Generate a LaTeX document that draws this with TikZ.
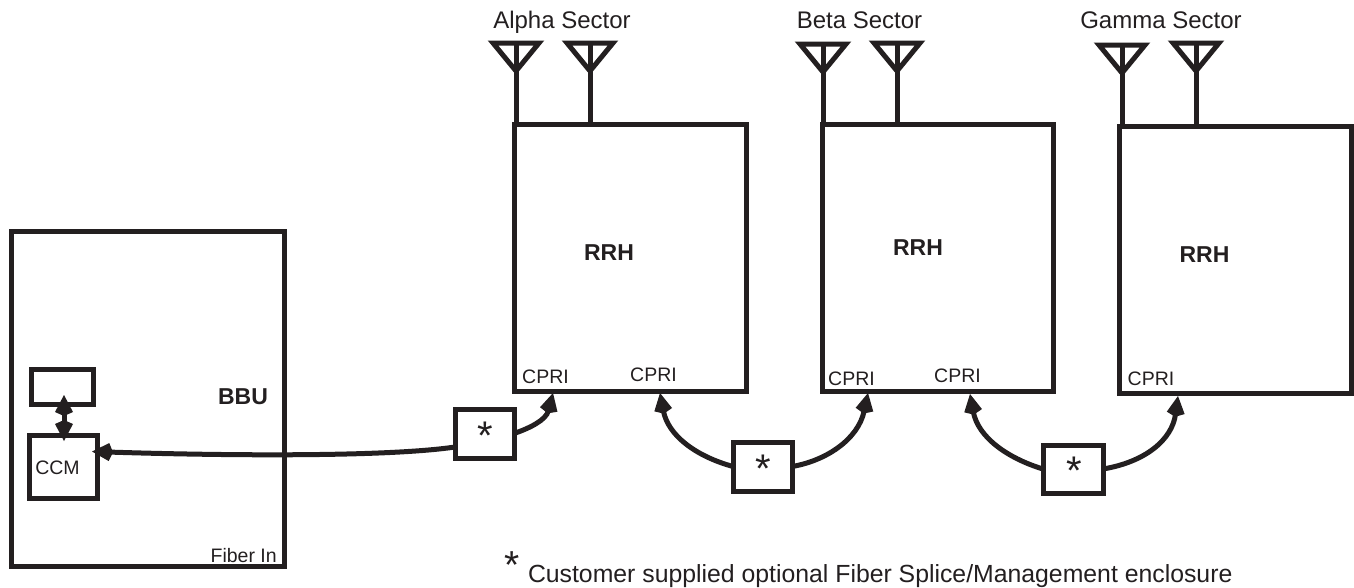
\documentclass[tikz,border=0pt]{standalone}
\usepackage{fontspec}
\setmainfont{Liberation Sans}
\usetikzlibrary{arrows.meta}
\definecolor{ink}{HTML}{231F20}
\newcommand{\fs}[1]{\fontsize{#1}{#1}\selectfont}
\tikzset{
  x=1pt,y=-1pt,
  boxn/.style={draw=ink,line width=5pt,inner sep=0pt,outer sep=0pt,rectangle},
  txt/.style={inner sep=0pt,outer sep=0pt,text=ink,anchor=base},
  lab/.style={txt,font=\fs{19.5}},
  sec/.style={txt,font=\fs{24}},
  hd/.style={txt,font=\fs{23}\bfseries},
  star/.style={txt,font=\fs{40}},
  wire/.style={draw=ink,line width=5pt},
  arr/.style={wire,-{Kite[length=21pt,width=18pt,inset=4pt]}},
  darr/.style={wire,{Kite[length=21pt,width=18pt,inset=4pt]}-{Kite[length=21pt,width=18pt,inset=4pt]}},
  ant/.style={draw=ink,line width=5pt,miter limit=10,line join=miter},
}
\newcommand{\antenna}[4]{%
  \coordinate (#1a) at (#2-23,#3);
  \coordinate (#1b) at (#2+23,#3);
  \coordinate (#1c) at (#2,#3+28);
  \coordinate (#1t) at (#2,#3);
  \coordinate (#1e) at (#2,#4);
  \draw[ant] (#1a) -- (#1b) -- (#1c) -- cycle;
  \draw[wire] (#1t) -- (#1e);
}
\begin{document}
\begin{tikzpicture}
\useasboundingbox (0,0) rectangle (1354,587);
% boxes
\node[boxn,minimum width=273pt,minimum height=335pt] (bbu) at (147.5,398.5) {};
\node[boxn,minimum width=62pt,minimum height=35pt] (top) at (62,386.5) {};
\node[boxn,minimum width=68pt,minimum height=63pt] (ccm) at (63,466.5) {};
\node[boxn,minimum width=231.5pt,minimum height=266.5pt] (rrha) at (630.25,257.75) {};
\node[boxn,minimum width=231.5pt,minimum height=266.5pt] (rrhb) at (937.75,257.75) {};
\node[boxn,minimum width=231.5pt,minimum height=267.5pt] (rrhc) at (1235.25,259.75) {};
\node[boxn,minimum width=59pt,minimum height=49pt] (s1) at (484.5,433.5) {};
\node[boxn,minimum width=59pt,minimum height=49pt] (s2) at (762.5,466.5) {};
\node[boxn,minimum width=60pt,minimum height=48pt] (s3) at (1073,469) {};
% antennas
\antenna{a1}{516}{43}{124}\antenna{a2}{590}{43}{124}
\antenna{b1}{823}{44}{124}\antenna{b2}{897}{43}{124}
\antenna{c1}{1122}{45}{126}\antenna{c2}{1196}{43}{126}
% labels
\node[sec] (t1) at (562,28) {Alpha Sector};
\node[sec] (t2) at (859.5,28) {Beta Sector};
\node[sec] (t3) at (1161,28) {Gamma Sector};
\node[hd] (h1) at (609,260) {RRH};
\node[hd] (h2) at (918,255) {RRH};
\node[hd] (h3) at (1204.5,262) {RRH};
\node[hd] (h4) at (243,404) {BBU};
\node[lab] (c1) at (545.5,383) {CPRI};
\node[lab] (c2) at (653.5,381) {CPRI};
\node[lab] (c3) at (851.5,385) {CPRI};
\node[lab] (c4) at (957.5,382) {CPRI};
\node[lab] (c5) at (1151,385) {CPRI};
\node[lab] (ccmt) at (57.5,474) {CCM};
\node[lab] (fib) at (243.7,562.7) {Fiber In};
\node[star] (st1) at (485.5,449) {*};
\node[star] (st2) at (763.7,482) {*};
\node[star] (st3) at (1074,484) {*};
\node[txt,font=\fs{39}] (st4) at (512,578) {*};
\node[txt,font=\fs{24.8},anchor=base west] (note) at (528,582) {Customer supplied optional Fiber Splice/Management enclosure};
% connectors
\coordinate (pa) at (553,393);
\coordinate (pb) at (660,393);
\coordinate (pc) at (868,393);
\coordinate (pd) at (970,394);
\coordinate (pe) at (1178,396);
\coordinate (pf) at (455,447);
\coordinate (pg) at (92,451.5);
\coordinate (ph) at (64,395);
\coordinate (pi) at (64,441);
\draw[arr] (pf) .. controls (380,458) and (200,455) .. (pg);
\draw[darr] (ph) -- (pi);
\draw[arr] (s1.east) .. controls (530,428) and (546,420) .. (pa);
\draw[arr] (s2.west) .. controls (695,456) and (668,435) .. (pb);
\draw[arr] (s2.east) .. controls (825,461) and (858,440) .. (pc);
\draw[arr] (s3.west) .. controls (1007,458) and (978,437) .. (pd);
\draw[arr] (s3.east) .. controls (1145,462) and (1172,440) .. (pe);
\end{tikzpicture}
\end{document}
